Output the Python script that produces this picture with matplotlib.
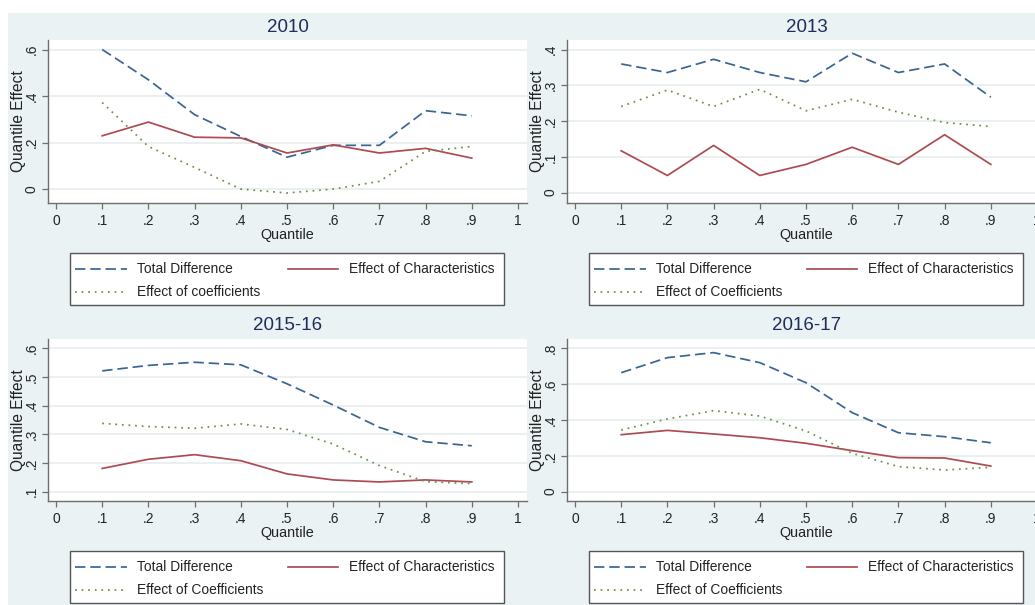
import matplotlib
matplotlib.use("Agg")
import matplotlib.pyplot as plt
from matplotlib.patches import Rectangle
from matplotlib.lines import Line2D
from matplotlib import font_manager

# condensed sans face when available, otherwise the regular one
_names = {f.name for f in font_manager.fontManager.ttflist}
NARROW = "Liberation Sans Narrow" in _names
plt.rcParams["font.family"] = (["Liberation Sans Narrow"] if NARROW else []) + ["Liberation Sans", "DejaVu Sans"]
FS = 1.04 if NARROW else 0.9

# ---- data -----------------------------------------------------------------
quantiles = [0.1, 0.2, 0.3, 0.4, 0.5, 0.6, 0.7, 0.8, 0.9]

total_2010 = [0.600, 0.470, 0.320, 0.226, 0.137, 0.188, 0.188, 0.337, 0.315]
chars_2010 = [0.229, 0.288, 0.223, 0.220, 0.155, 0.190, 0.155, 0.175, 0.133]
coefs_2010 = [0.372, 0.183, 0.093, 0.000, -0.017, 0.000, 0.033, 0.162, 0.183]

total_2013 = [0.360, 0.336, 0.373, 0.336, 0.310, 0.390, 0.336, 0.360, 0.267]
chars_2013 = [0.117, 0.048, 0.132, 0.048, 0.079, 0.127, 0.079, 0.162, 0.079]
coefs_2013 = [0.241, 0.287, 0.241, 0.289, 0.229, 0.261, 0.225, 0.196, 0.185]

total_2015 = [0.521, 0.540, 0.551, 0.542, 0.476, 0.402, 0.324, 0.274, 0.260]
chars_2015 = [0.181, 0.213, 0.229, 0.208, 0.162, 0.141, 0.134, 0.141, 0.134]
coefs_2015 = [0.338, 0.327, 0.321, 0.336, 0.317, 0.266, 0.191, 0.135, 0.128]

total_2016 = [0.664, 0.748, 0.776, 0.720, 0.608, 0.441, 0.329, 0.307, 0.273]
chars_2016 = [0.318, 0.342, 0.322, 0.301, 0.270, 0.229, 0.190, 0.188, 0.143]
coefs_2016 = [0.344, 0.406, 0.452, 0.422, 0.339, 0.214, 0.140, 0.121, 0.136]

titles = ["2010", "2013", "2015-16", "2016-17"]
yticks_2010 = [0, 0.2, 0.4, 0.6]
yticks_2013 = [0, 0.1, 0.2, 0.3, 0.4]
yticks_2015 = [0.1, 0.2, 0.3, 0.4, 0.5, 0.6]
yticks_2016 = [0, 0.2, 0.4, 0.6, 0.8]
xticks = [0, 0.1, 0.2, 0.3, 0.4, 0.5, 0.6, 0.7, 0.8, 0.9, 1]

label_total = "Total Difference"
label_chars = "Effect of Characteristics"
label_coefs_2010 = "Effect of coefficients"
label_coefs = "Effect of Coefficients"

# ---- style ----------------------------------------------------------------
W, H = 1035, 605
BG = "#eaf2f3"
C_TOTAL = "#3a6593"
C_CHARS = "#ad4b52"
C_COEFS = "#6a8f42"
LS_TOTAL = (0, (6.0, 2.8))
LS_COEFS = (0, (1.0, 2.8))
LW = 1.25
TXT = "#222222"
TITLE_C = "#1f2d5c"
GRID = "#e6eeec"


def stata_fmt(v):
    if abs(v) < 1e-9:
        return "0"
    if abs(v - 1) < 1e-9:
        return "1"
    return ("%.1f" % v).replace("0.", ".")


fig = plt.figure(figsize=(W / 100, H / 100), dpi=100)
fig.patch.set_facecolor("white")

# full-figure canvas in pixel units for background and legend boxes
canvas = fig.add_axes([0, 0, 1, 1], zorder=0)
canvas.set_xlim(0, W)
canvas.set_ylim(H, 0)
canvas.axis("off")
canvas.add_patch(Rectangle((8, 13), W - 8, H - 13, facecolor=BG, edgecolor="none"))


def px_rect(x0, y0, x1, y1):
    return [x0 / W, 1 - y1 / H, (x1 - x0) / W, (y1 - y0) / H]


# (plot left, top, right, bottom) in pixels, y-limits, ticks, data, coef label
panels = [
    ((48, 40, 527, 203), (-0.060, 0.641), yticks_2010,
     total_2010, chars_2010, coefs_2010, label_coefs_2010),
    ((567, 40, 1046, 203), (-0.029, 0.427), yticks_2013,
     total_2013, chars_2013, coefs_2013, label_coefs),
    ((48, 339, 527, 501), (0.0676, 0.632), yticks_2015,
     total_2015, chars_2015, coefs_2015, label_coefs),
    ((567, 339, 1046, 501), (-0.052, 0.852), yticks_2016,
     total_2016, chars_2016, coefs_2016, label_coefs),
]

for title, (box, ylim, yt, tot, cha, coe, coef_label) in zip(titles, panels):
    x0, y0, x1, y1 = box
    ax = fig.add_axes(px_rect(x0, y0, x1, y1), zorder=1)
    ax.set_facecolor("white")
    ax.set_xlim(-0.0173, (x1 - x0 - 8) / 462.0)
    ax.set_ylim(*ylim)

    ax.set_yticks(yt)
    ax.set_yticklabels([stata_fmt(v) for v in yt], rotation=90, va="center")
    ax.set_xticks(xticks)
    ax.set_xticklabels([stata_fmt(v) for v in xticks])
    for v in yt:
        ax.axhline(v, color=GRID, lw=1.2, zorder=0)

    for s in ("top", "right"):
        ax.spines[s].set_visible(False)
    for s in ("left", "bottom"):
        ax.spines[s].set_color("#6e6e6e")
        ax.spines[s].set_linewidth(1.0)
    ax.tick_params(axis="both", length=4, width=0.9, color="#6e6e6e",
                   labelsize=11 * FS, labelcolor=TXT)
    ax.tick_params(axis="x", pad=4)
    ax.tick_params(axis="y", pad=3)

    ax.plot(quantiles, tot, color=C_TOTAL, lw=LW, ls=LS_TOTAL)
    ax.plot(quantiles, cha, color=C_CHARS, lw=LW, ls="-")
    ax.plot(quantiles, coe, color=C_COEFS, lw=LW, ls=LS_COEFS)

    ax.set_xlabel("Quantile", fontsize=11.5 * FS, color=TXT, labelpad=0)
    ax.set_ylabel("Quantile Effect", fontsize=12.4 * FS, color=TXT, labelpad=-1)

    # panel title in the band above the plot region
    cx = x0 + 239.5
    canvas.text(cx, y0 - 13, title, ha="center", va="center",
                fontsize=15 * FS, color=TITLE_C, zorder=2)

    # legend box below the axis
    bl, bt = x0 + 22, y1 + 50
    canvas.add_patch(Rectangle((bl, bt), 434, 52, facecolor="white",
                               edgecolor="#555555", lw=1.0, zorder=2))
    r1, r2 = bt + 16, bt + 39
    canvas.add_line(Line2D([bl + 5, bl + 57], [r1, r1], color=C_TOTAL,
                           lw=LW, ls=LS_TOTAL, zorder=3))
    canvas.text(bl + 67, r1, label_total, va="center", fontsize=11 * FS,
                color=TXT, zorder=3)
    canvas.add_line(Line2D([bl + 218, bl + 268], [r1, r1], color=C_CHARS,
                           lw=LW, zorder=3))
    canvas.text(bl + 279, r1, label_chars, va="center", fontsize=11 * FS,
                color=TXT, zorder=3)
    canvas.add_line(Line2D([bl + 5, bl + 57], [r2, r2], color=C_COEFS,
                           lw=LW, ls=LS_COEFS, zorder=3))
    canvas.text(bl + 67, r2, coef_label, va="center", fontsize=11 * FS,
                color=TXT, zorder=3)

fig.savefig("out.png", dpi=100, facecolor=fig.get_facecolor())
